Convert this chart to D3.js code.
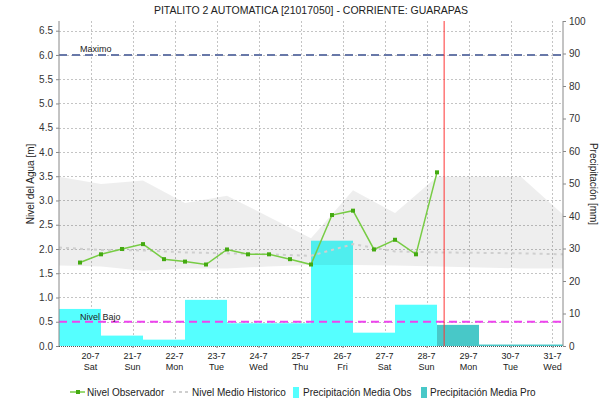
<!DOCTYPE html>
<html><head><meta charset="utf-8">
<script src="https://cdn.jsdelivr.net/npm/d3@7"></script>
<style>
body{margin:0;background:#fff;}
svg{display:block;font-family:"Liberation Sans",Arial,sans-serif;}
</style></head><body>
<svg id="chart" width="613" height="401"></svg>
<script>
// ---- data ----
const title = "PITALITO 2 AUTOMATICA [21017050] - CORRIENTE: GUARAPAS";
const dayLabels = ["20-7","21-7","22-7","23-7","24-7","25-7","26-7","27-7","28-7","29-7","30-7","31-7"];
const weekdayLabels = ["Sat","Sun","Mon","Tue","Wed","Thu","Fri","Sat","Sun","Mon","Tue","Wed"];
// time unit: days since 19-7 06:00
const tickTimes = [0.75,1.75,2.75,3.75,4.75,5.75,6.75,7.75,8.75,9.75,10.75,11.75];
const obsTimes = [0.5,1,1.5,2,2.5,3,3.5,4,4.5,5,5.5,6,6.5,7,7.5,8,8.5,9];
const obsLevel = [1.72,1.89,2.00,2.10,1.79,1.74,1.68,1.99,1.89,1.89,1.79,1.68,2.70,2.79,1.99,2.19,1.89,3.58];
const bandTimes = [0,1,2,3,4,5,6,7,8,9,10,11,12];
const bandUpper = [3.49,3.34,3.41,2.95,3.10,2.66,2.22,3.21,2.74,3.49,3.49,3.49,2.71];
const bandLower = [1.66,1.64,1.55,1.60,1.60,1.64,1.67,1.67,1.66,1.64,1.62,1.60,1.60];
const meanLevel = [2.03,1.98,1.97,1.93,1.91,1.89,1.86,2.10,1.95,1.93,1.92,1.91,1.89];
const precipObsStart = [0,1,2,3,4,5,6,7,8];
const precipObs = [11.4,3.2,1.95,14.2,7.0,7.0,32.4,4.1,12.7];
const precipProStart = [9,10,11];
const precipPro = [6.5,0.45,0.45];
const levelMax = 6.0, levelLow = 0.5;
const nowTime = 9.17;
const leftTicks = [0,0.5,1,1.5,2,2.5,3,3.5,4,4.5,5,5.5,6,6.5];
const rightTicks = [0,10,20,30,40,50,60,70,80,90,100];

// ---- layout ----
const L=59, R=563, T=21, B=346;
const svg = d3.select("#chart");
const x = d3.scaleLinear().domain([0,12]).range([L,R]);
const yL = d3.scaleLinear().domain([0,6.7]).range([B,T]);
const yR = d3.scaleLinear().domain([0,100]).range([B,T]);

// gridlines
const grid = svg.append("g").attr("stroke","#c4c4c4").attr("stroke-dasharray","2,2").attr("stroke-width",1);
leftTicks.filter(d=>d>0).forEach(d=>{
  grid.append("line").attr("x1",L).attr("x2",R).attr("y1",Math.round(yL(d))+0.5).attr("y2",Math.round(yL(d))+0.5);
});
tickTimes.forEach(t=>{
  grid.append("line").attr("x1",Math.round(x(t))+0.5).attr("x2",Math.round(x(t))+0.5).attr("y1",T).attr("y2",B);
});

// bars
svg.append("g").selectAll("rect").data(precipObs).join("rect")
  .attr("x",(d,i)=>x(precipObsStart[i])).attr("width",(d,i)=>x(precipObsStart[i]+1)-x(precipObsStart[i]))
  .attr("y",d=>yR(d)).attr("height",d=>B-yR(d)).attr("fill","#55ffff");
svg.append("g").selectAll("rect").data(precipPro).join("rect")
  .attr("x",(d,i)=>x(precipProStart[i])).attr("width",(d,i)=>x(precipProStart[i]+1)-x(precipProStart[i]))
  .attr("y",d=>yR(d)).attr("height",d=>B-yR(d)).attr("fill","#48c8c8");

// historic band
const area = d3.area().x((d,i)=>x(bandTimes[i])).y0((d,i)=>yL(bandLower[i])).y1(d=>yL(d));
svg.append("path").datum(bandUpper).attr("d",area).attr("fill","rgba(0,0,0,0.065)");

// mean historic line
const meanLine = d3.line().x((d,i)=>x(bandTimes[i])).y(d=>yL(d));
svg.append("path").datum(meanLevel).attr("d",meanLine).attr("fill","none")
  .attr("stroke","#cfcfcf").attr("stroke-width",2).attr("stroke-dasharray","3,4");

// Maximo / Nivel Bajo
svg.append("line").attr("x1",L).attr("x2",R).attr("y1",yL(levelMax)).attr("y2",yL(levelMax))
  .attr("stroke","#6878a8").attr("stroke-width",2).attr("stroke-dasharray","8,5");
svg.append("text").attr("x",80).attr("y",yL(levelMax)-3).attr("font-size",9).attr("fill","#222").text("Maximo");
svg.append("line").attr("x1",L).attr("x2",R).attr("y1",yL(levelLow)).attr("y2",yL(levelLow))
  .attr("stroke","#ee44ee").attr("stroke-width",2).attr("stroke-dasharray","8,5");
svg.append("text").attr("x",80).attr("y",yL(levelLow)-2).attr("font-size",9).attr("fill","#222").text("Nivel Bajo");

// observed level
const obsLine = d3.line().x((d,i)=>x(obsTimes[i])).y(d=>yL(d));
svg.append("path").datum(obsLevel).attr("d",obsLine).attr("fill","none").attr("stroke","#77cc44").attr("stroke-width",1.5);
svg.append("g").selectAll("rect").data(obsLevel).join("rect")
  .attr("x",(d,i)=>x(obsTimes[i])-2).attr("y",d=>yL(d)-2).attr("width",4).attr("height",4)
  .attr("fill","#44aa11");

// now line
svg.append("line").attr("x1",x(nowTime)).attr("x2",x(nowTime)).attr("y1",T).attr("y2",B)
  .attr("stroke","#ff3333").attr("stroke-width",1);

// axes
const axL = svg.append("g").attr("transform",`translate(${L},0)`)
  .call(d3.axisLeft(yL).tickValues(leftTicks).tickFormat(d3.format(".1f")).tickSize(3).tickPadding(3));
const axR = svg.append("g").attr("transform",`translate(${R},0)`)
  .call(d3.axisRight(yR).tickValues(rightTicks).tickSize(3).tickPadding(3));
[axL,axR].forEach(a=>{
  a.select(".domain").attr("stroke","#888").attr("d",`M0,${T}V${B}`);
  a.selectAll(".tick line").attr("stroke","#888");
  a.selectAll(".tick text").attr("font-size",10).attr("fill","#333").attr("font-family","Liberation Sans, Arial, sans-serif");
});
// bottom axis
svg.append("line").attr("x1",L).attr("x2",R).attr("y1",B+0.5).attr("y2",B+0.5)
  .attr("stroke","#555").attr("stroke-dasharray","1,1");
const axB = svg.append("g").attr("transform",`translate(0,${B})`)
  .call(d3.axisBottom(x).tickValues(tickTimes).tickFormat("").tickSize(2));
axB.select(".domain").remove();
axB.selectAll(".tick line").attr("stroke","#888");
const xl = svg.append("g").attr("font-size",9).attr("fill","#222").attr("text-anchor","middle");
tickTimes.forEach((t,i)=>{
  xl.append("text").attr("x",x(t)).attr("y",359).text(dayLabels[i]);
  xl.append("text").attr("x",x(t)).attr("y",370).text(weekdayLabels[i]);
});

// axis titles
svg.append("text").attr("transform",`translate(34,184) rotate(-90)`).attr("text-anchor","middle")
  .attr("font-size",10).attr("fill","#222").text("Nivel del Agua [m]");
svg.append("text").attr("transform",`translate(590,184) rotate(90)`).attr("text-anchor","middle")
  .attr("font-size",10).attr("fill","#222").text("Precipitación [mm]");

// title
svg.append("text").attr("x",311).attr("y",14).attr("text-anchor","middle").attr("font-size",10.5)
  .attr("fill","#222").text(title);

// legend
const lg = svg.append("g").attr("font-size",10).attr("fill","#222");
lg.append("line").attr("x1",70).attr("x2",85).attr("y1",392).attr("y2",392).attr("stroke","#77cc44").attr("stroke-width",1.5);
lg.append("rect").attr("x",76).attr("y",390).attr("width",4).attr("height",4).attr("fill","#44aa11");
lg.append("text").attr("x",87).attr("y",396).text("Nivel Observador");
lg.append("line").attr("x1",173).attr("x2",188).attr("y1",392).attr("y2",392).attr("stroke","#cfcfcf").attr("stroke-width",2).attr("stroke-dasharray","3,3");
lg.append("text").attr("x",192).attr("y",396).text("Nivel Medio Historico");
lg.append("rect").attr("x",293).attr("y",387).attr("width",6).attr("height",11).attr("fill","#55ffff");
lg.append("text").attr("x",303).attr("y",396).text("Precipitación Media Obs");
lg.append("rect").attr("x",421).attr("y",387).attr("width",6).attr("height",11).attr("fill","#48c8c8");
lg.append("text").attr("x",430).attr("y",396).text("Precipitación Media Pro");
</script>
</body></html>
